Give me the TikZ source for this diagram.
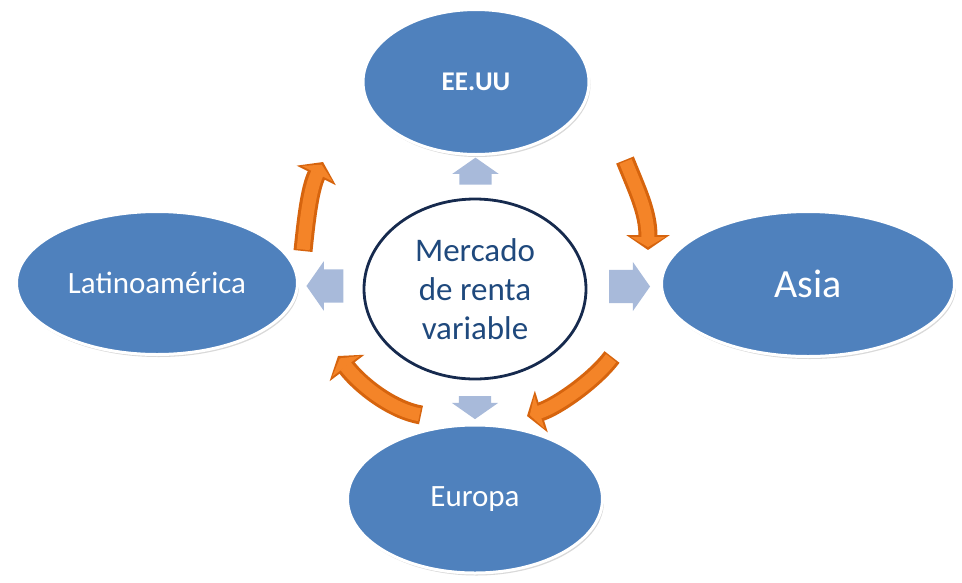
\documentclass[tikz,border=0pt]{standalone}
\usepackage{fontspec}
\setmainfont{Carlito}
\usetikzlibrary{shapes.geometric,shapes.arrows,arrows.meta,shadows,calc}
\definecolor{regionblue}{RGB}{79,129,189}
\definecolor{paleblue}{RGB}{168,186,218}
\definecolor{navyline}{RGB}{22,42,78}
\definecolor{navytext}{RGB}{31,73,125}
\definecolor{darkorange}{RGB}{214,100,14}
\definecolor{midorange}{RGB}{244,132,40}
\tikzset{region/.style={ellipse,fill=regionblue,draw=white,line width=3pt,inner sep=0pt,text=white,
    drop shadow={shadow xshift=1.5pt,shadow yshift=-2.5pt,opacity=0.3}},
  flow/.style={single arrow,fill=paleblue,inner sep=0pt,single arrow head extend=7pt,single arrow tip angle=110},
  flowside/.style={flow,text height=16.5pt,text depth=16.5pt,text width=0pt,single arrow head extend=8pt},
  flowupright/.style={flow,text width=32pt,text height=0pt,text depth=0pt},
  turnarrow/.style={line width=19pt,darkorange,-{Triangle[length=15pt,width=43pt]}},
  turnglow/.style={line width=13pt,midorange,shorten >=3pt,shorten <=1.5pt,-{Triangle[length=10pt,width=34pt]}}}

\begin{document}
\begin{tikzpicture}[x=1pt,y=-1pt]
  \useasboundingbox (0,0) rectangle (962,582);
  \node[region,minimum width=226pt,minimum height=145pt,font=\fontsize{27}{32}\selectfont\bfseries] (ee) at (476,82) {EE.UU};
  \node[region,minimum width=281pt,minimum height=143pt,font=\fontsize{31}{36}\selectfont] (lat) at (157,283) {Latinoamérica};
  \node[region,minimum width=293pt,minimum height=145pt,font=\fontsize{40}{46}\selectfont] (asia) at (808,284) {Asia};
  \node[region,minimum width=255pt,minimum height=148pt,font=\fontsize{31}{36}\selectfont] (eur) at (475,499) {Europa};
  \node[ellipse,fill=white,draw=navyline,line width=2.8pt,minimum width=222pt,minimum height=180pt,inner sep=0pt,
        align=center,text=navytext,font=\fontsize{33}{39}\selectfont] (mkt) at (475,289) {Mercado\\de renta\\variable};

  \node[flowupright,minimum height=27pt,shape border rotate=90] (toEE) at ($(mkt.north)!0.5!(ee.south)$) {};
  \node[flowupright,minimum height=23pt,shape border rotate=270] (toEur) at ($(mkt.south)!0.5!(eur.north)$) {};
  \node[flowside,minimum height=37pt,shape border rotate=180] (toLat) at ($(mkt.west)!0.5!(lat.east)$) {};
  \node[flowside,minimum height=41pt,shape border rotate=0] (toAsia) at ($(mkt.east)!0.5!(asia.west)$) {};

  \coordinate (latOut) at (303,251);
  \coordinate (eeIn) at (323,162);
  \coordinate (eeOut) at (625,160);
  \coordinate (asiaIn) at (648,250);
  \coordinate (asiaOut) at (612,357);
  \coordinate (eurIn) at (527,416);
  \coordinate (eurOut) at (421,415);
  \coordinate (latIn) at (338,356);

  \draw[turnarrow] (latOut) .. controls (306,222) and (309.5,189) .. (eeIn);
  \draw[turnglow] (latOut) .. controls (306,222) and (309.5,189) .. (eeIn);
  \draw[turnarrow] (eeOut) .. controls (637,190) and (648,212) .. (asiaIn);
  \draw[turnglow] (eeOut) .. controls (637,190) and (648,212) .. (asiaIn);
  \draw[turnarrow] (asiaOut) .. controls (594,381) and (556,407) .. (eurIn);
  \draw[turnglow] (asiaOut) .. controls (594,381) and (556,407) .. (eurIn);
  \draw[turnarrow] (eurOut) .. controls (392,410) and (360,385) .. (latIn);
  \draw[turnglow] (eurOut) .. controls (392,410) and (360,385) .. (latIn);
\end{tikzpicture}
\end{document}
